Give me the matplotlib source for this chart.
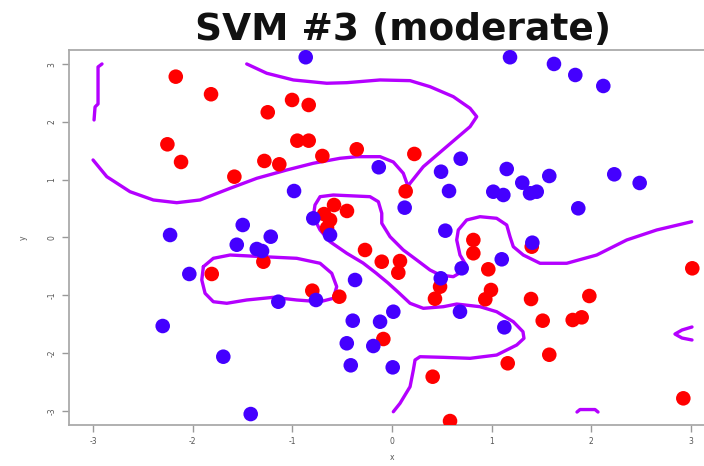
import numpy as np
import matplotlib
matplotlib.use("Agg")
import matplotlib.pyplot as plt

# class +1 (red) points
red_x = [-2.170, -1.816, -1.003, -0.836, -1.247, -2.254, -0.950, -0.836, -2.117, -0.699,
         -0.354, -1.281, -1.131, -1.582, 0.224, 0.137, -0.582, -0.452, -0.682, -0.622,
         -0.652, -0.271, -0.103, 0.080, 0.063, 0.816, 0.816, 1.402, 0.966, 0.482,
         0.431, 0.993, 0.936, 1.395, 1.980, 1.512, 1.813, 1.903, 3.013, -0.087,
         1.578, 1.161, 0.408, 2.923, 0.582, -1.809, -1.291, -0.800, -0.529]
red_y = [2.782, 2.478, 2.379, 2.292, 2.166, 1.612, 1.675, 1.675, 1.306, 1.410,
         1.526, 1.324, 1.266, 1.052, 1.445, 0.799, 0.562, 0.459, 0.405, 0.302,
         0.164, -0.216, -0.419, -0.407, -0.609, -0.043, -0.273, -0.159, -0.550, -0.851,
         -1.059, -0.908, -1.069, -1.064, -1.012, -1.439, -1.427, -1.381, -0.533, -1.756,
         -2.028, -2.176, -2.408, -2.782, -3.175, -0.631, -0.419, -0.920, -1.024]

# class -1 (blue) points
blue_x = [-0.866, 1.184, 1.625, 1.839, 2.120, -0.133, 0.689, 0.492, 1.151, 1.307,
          1.578, 2.230, 2.485, 1.016, 1.117, 1.385, 1.452, 0.572, -0.983, 0.127,
          1.869, 0.535, 1.408, -1.498, -2.227, -1.558, -1.357, -1.304, -1.217, -2.034,
          -1.141, -0.763, -0.371, -2.301, -0.394, -0.120, 0.013, -0.454, -0.188, -0.414,
          0.007, -1.693, -1.418, -0.622, -0.790, 1.101, 0.699, 0.489, 0.682, 1.127]
blue_y = [3.118, 3.118, 3.002, 2.811, 2.621, 1.215, 1.363, 1.138, 1.185, 0.948,
          1.064, 1.093, 0.943, 0.792, 0.735, 0.765, 0.792, 0.804, 0.804, 0.516,
          0.505, 0.118, -0.090, 0.216, 0.043, -0.125, -0.199, -0.234, 0.014, -0.631,
          -1.111, -1.081, -0.735, -1.531, -1.439, -1.457, -1.284, -1.830, -1.877, -2.211,
          -2.246, -2.062, -3.054, 0.043, 0.332, -0.377, -0.533, -0.706, -1.284, -1.554]

# decision boundary (traced contour pieces)
bd_a_x = [-2.910, -2.950, -2.950, -2.980, -2.990]
bd_a_y = [3.002, 2.950, 2.310, 2.258, 2.033]

bd_b_x = [-3.000, -2.862, -2.629, -2.395, -2.160, -1.926, -1.625, -1.357, -1.056, -0.790,
          -0.522, -0.354, -0.120, 0.013, 0.113, 0.161, 0.181, 0.314, 0.548, 0.783,
          0.850, 0.783, 0.615, 0.381, 0.181, -0.120, -0.454, -0.655, -0.990, -1.257, -1.458]
bd_b_y = [1.341, 1.052, 0.792, 0.649, 0.602, 0.649, 0.851, 1.024, 1.168, 1.284,
          1.370, 1.398, 1.398, 1.306, 1.111, 0.882, 0.938, 1.225, 1.571, 1.917,
          2.090, 2.235, 2.436, 2.609, 2.713, 2.725, 2.678, 2.668, 2.725, 2.841, 3.002]

bd_c_x = [0.013, 0.080, 0.181, 0.214, 0.231, 0.281, 0.515, 0.783, 1.050, 1.251,
          1.324, 1.314, 1.217, 1.050, 0.883, 0.649, 0.515, 0.314, 0.181, 0.060,
          -0.040, -0.161, -0.291, -0.454, -0.622, -0.722, -0.790, -0.773, -0.722, -0.589,
          -0.221, -0.137, -0.103, -0.103, -0.020, 0.113, 0.248, 0.381, 0.482, 0.615,
          0.699, 0.732, 0.682, 0.649, 0.665, 0.749, 0.883, 1.050, 1.151, 1.184,
          1.217, 1.317, 1.485, 1.753, 2.054, 2.355, 2.656, 3.007]
bd_c_y = [-3.014, -2.869, -2.581, -2.292, -2.119, -2.062, -2.073, -2.090, -2.033, -1.860,
          -1.744, -1.630, -1.457, -1.284, -1.197, -1.151, -1.197, -1.225, -1.138, -0.943,
          -0.787, -0.614, -0.441, -0.273, -0.073, 0.130, 0.360, 0.562, 0.706, 0.735,
          0.706, 0.619, 0.419, 0.246, 0.014, -0.216, -0.389, -0.562, -0.649, -0.678,
          -0.592, -0.446, -0.303, -0.043, 0.130, 0.303, 0.360, 0.332, 0.216, 0.014,
          -0.159, -0.303, -0.446, -0.446, -0.303, -0.043, 0.130, 0.273]

bd_d_x = [-1.893, -1.793, -1.625, -1.291, -0.956, -0.722, -0.605, -0.555, -0.589, -0.722,
          -0.956, -1.191, -1.458, -1.658, -1.793, -1.876, -1.909, -1.893]
bd_d_y = [-0.505, -0.360, -0.303, -0.332, -0.360, -0.446, -0.619, -0.851, -1.052, -1.111,
          -1.081, -1.035, -1.081, -1.138, -1.111, -0.965, -0.735, -0.505]

bd_e_x = [3.010, 2.910, 2.839, 2.910, 3.010]
bd_e_y = [-1.548, -1.600, -1.670, -1.739, -1.773]

bd_f_x = [1.856, 1.886, 2.037, 2.067]
bd_f_y = [-3.019, -2.976, -2.976, -3.019]

ticks = [-3, -2, -1, 0, 1, 2, 3]

fig = plt.figure(figsize=(7.04, 4.66), dpi=100)
ax = fig.add_axes([0.0982, 0.0884, 0.9173, 0.8039])

line_col = "#b400ff"
for bx, by in [(bd_a_x, bd_a_y), (bd_b_x, bd_b_y), (bd_c_x, bd_c_y),
               (bd_d_x, bd_d_y), (bd_e_x, bd_e_y), (bd_f_x, bd_f_y)]:
    ax.plot(bx, by, color=line_col, lw=2.4, solid_capstyle="round", zorder=2)

ax.scatter(red_x, red_y, s=110, color="#ff0000", edgecolors="none", zorder=3)
ax.scatter(blue_x, blue_y, s=110, color="#4400ff", edgecolors="none", zorder=3)

ax.set_xlim(-3.24, 3.24)
ax.set_ylim(-3.24, 3.24)
ax.set_xticks(ticks)
ax.set_yticks(ticks)
ax.set_xticklabels([str(t) for t in ticks])
ax.set_yticklabels([str(t) for t in ticks], rotation=90, va="center")
ax.tick_params(direction="out", length=5, width=1, color="#999999",
               labelsize=5.5, labelcolor="#555555", pad=4)
for sp in ax.spines.values():
    sp.set_color("#aaaaaa")
    sp.set_linewidth(1.3)

ax.set_xlabel("x", fontsize=5.5, color="#555555", labelpad=5)
ax.set_ylabel("y", fontsize=5.5, color="#555555", labelpad=14, rotation=90)

fig.text(403.5 / 704, 1 - 40 / 466, "SVM #3 (moderate)", ha="center", va="baseline",
         fontsize=27, fontweight="bold", color="#111111")

fig.savefig("out.png", dpi=100)
